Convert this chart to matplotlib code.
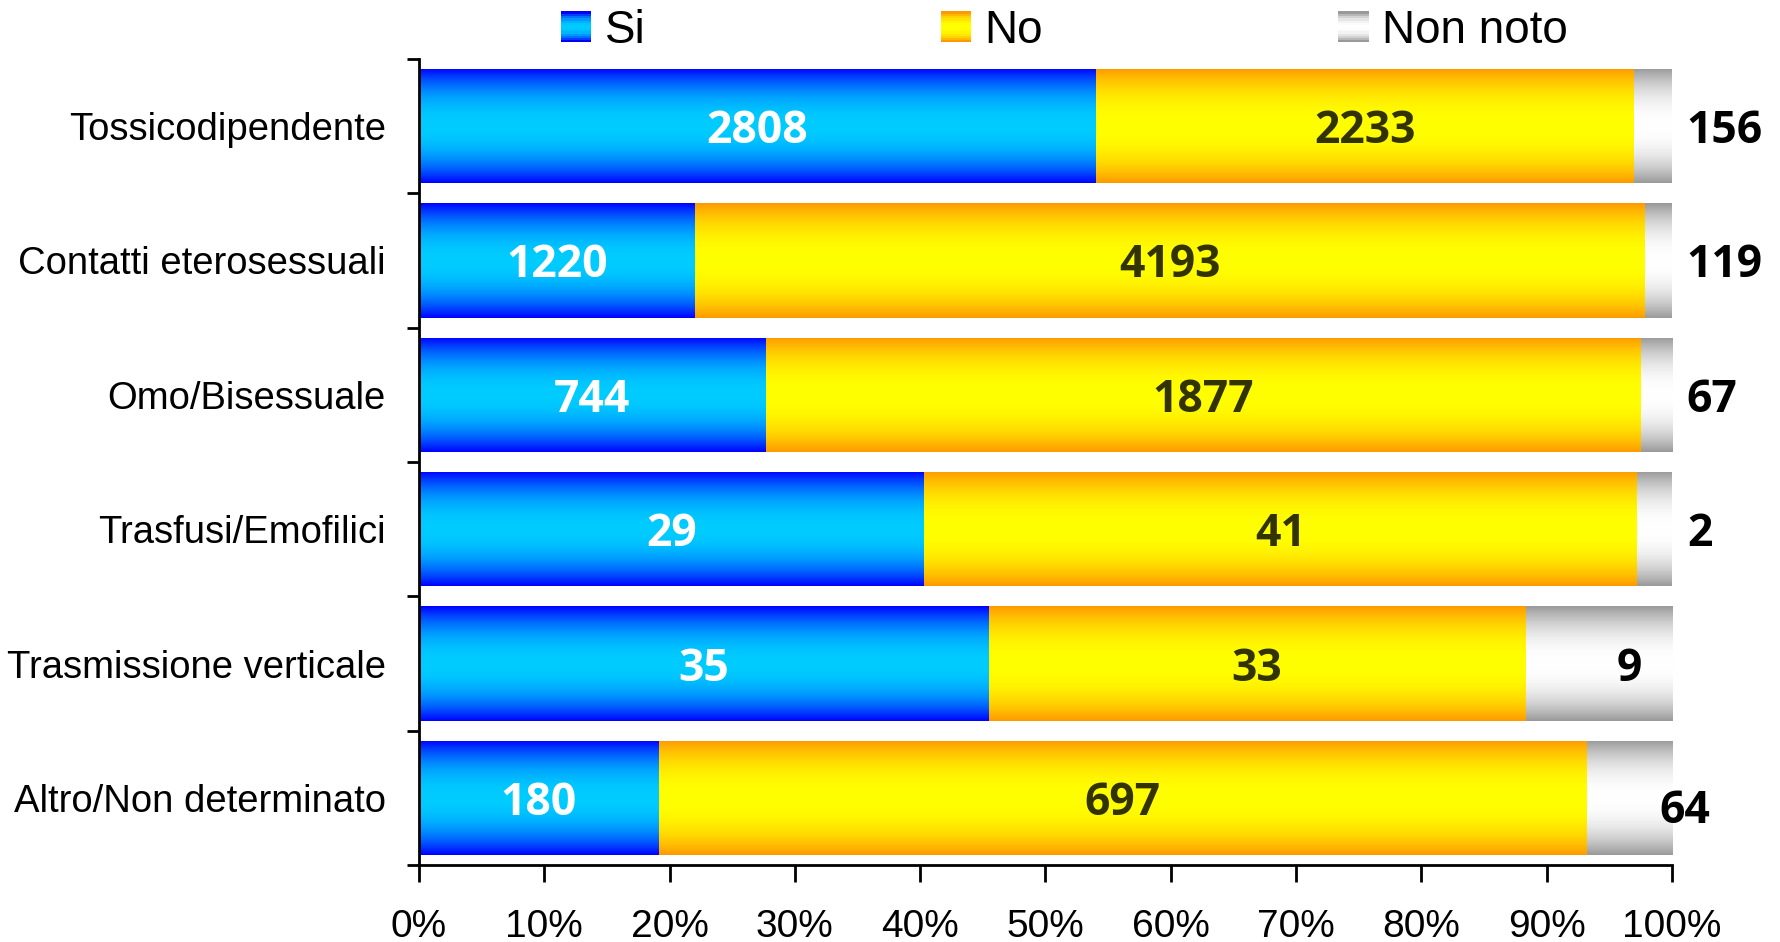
import numpy as np
import matplotlib
matplotlib.use("Agg")
import matplotlib.pyplot as plt
from matplotlib.patches import Rectangle
from matplotlib.legend_handler import HandlerBase
from matplotlib.colors import to_rgb
from matplotlib.ticker import FixedLocator, PercentFormatter
from matplotlib import font_manager

# === DATA ===
categories = ["Tossicodipendente", "Contatti eterosessuali", "Omo/Bisessuale",
              "Trasfusi/Emofilici", "Trasmissione verticale", "Altro/Non determinato"]
series_names = ["Si", "No", "Non noto"]
si = [2808, 1220, 744, 29, 35, 180]
no = [2233, 4193, 1877, 41, 33, 697]
non_noto = [156, 119, 67, 2, 9, 64]

# gradient colours: (edge, middle)
grads = [("#0000FF", "#00CCFF"), ("#FF9900", "#FFFF00"), ("#999999", "#FFFFFF")]
label_colors = ["white", "#333300", "black"]
# x position (axis fraction) of the "Non noto" labels
nn_label_x = [1.042, 1.042, 1.032, 1.022, 0.966, 1.01]
nn_label_dy = [0, 0, 0, 0, 0, 0.06]

plt.rcParams['font.family'] = ['Liberation Sans', 'DejaVu Sans']

# pick an installed bold family for the value labels
names = {f.name for f in font_manager.fontManager.ttflist if f.weight in (700, 'bold')}
bold_family = next((n for n in ['Open Sans', 'Noto Sans', 'Lato', 'Roboto', 'DejaVu Sans']
                    if n in names), 'DejaVu Sans')


def gradient_rgb(edge, mid, n=256):
    t = np.abs(np.linspace(-1, 1, n))
    w = t ** 2.2
    e, m = np.array(to_rgb(edge)), np.array(to_rgb(mid))
    return m[None, :] * (1 - w[:, None]) + e[None, :] * w[:, None]


class GradientHandler(HandlerBase):
    def __init__(self, edge, mid, **kw):
        super().__init__(**kw)
        self.edge, self.mid = edge, mid

    def create_artists(self, legend, orig_handle, xdescent, ydescent,
                       width, height, fontsize, trans):
        n = 14
        cols = gradient_rgb(self.edge, self.mid, n)
        side = height * 1.05
        x0 = -xdescent + (width - side) / 2
        y0 = -ydescent + (height - side) / 2
        arts = []
        for i in range(n):
            r = Rectangle((x0, y0 + side * i / n), side, side / n + 0.3,
                          facecolor=cols[i], edgecolor='none', transform=trans)
            arts.append(r)
        return arts


data = np.array([si, no, non_noto], dtype=float)
totals = data.sum(axis=0)
pct = data / totals * 100

fig = plt.figure(figsize=(17.8, 9.42), dpi=100)
ax = fig.add_axes([0.2354, 0.0817, 0.7039, 0.8557])

y = np.arange(len(categories))
left = np.zeros(len(categories))
for s in range(3):
    bars = ax.barh(y, pct[s], left=left, height=0.85, color='none', edgecolor='none')
    img = gradient_rgb(*grads[s])[:, None, :]
    for b in bars:
        x0, y0 = b.get_x(), b.get_y()
        w, h = b.get_width(), b.get_height()
        im = ax.imshow(img, extent=(x0, x0 + w, y0, y0 + h), aspect='auto',
                       origin='lower', zorder=2, interpolation='bilinear')
        im.set_clip_path(b)
    left += pct[s]

ax.set_xlim(0, 100)
ax.set_ylim(len(categories) - 0.5, -0.5)

# value labels
lab_kw = dict(fontsize=32, fontweight='bold', family=[bold_family, 'DejaVu Sans'],
              zorder=3, va='center_baseline')
for i in range(len(categories)):
    ax.text(pct[0, i] / 2, y[i], f"{si[i]}", ha='center',
            color=label_colors[0], **lab_kw)
    ax.text(pct[0, i] + pct[1, i] / 2, y[i], f"{no[i]}", ha='center',
            color=label_colors[1], **lab_kw)
    ax.text(nn_label_x[i] * 100, y[i] + nn_label_dy[i], f"{non_noto[i]}",
            ha='center', color=label_colors[2], clip_on=False, **lab_kw)

# axes styling
for sp in ['top', 'right']:
    ax.spines[sp].set_visible(False)
for sp in ['left', 'bottom']:
    ax.spines[sp].set_linewidth(2)
    ax.spines[sp].set_color('black')

ax.set_yticks(y)
ax.set_yticklabels(categories, fontsize=27.5)
ax.yaxis.set_minor_locator(FixedLocator(np.arange(-0.5, len(categories), 1.0)))
ax.tick_params(axis='y', which='major', length=0, pad=24)
ax.tick_params(axis='y', which='minor', length=9, width=2, direction='out')

ax.set_xticks(np.arange(0, 101, 10))
ax.xaxis.set_major_formatter(PercentFormatter(decimals=0))
ax.tick_params(axis='x', which='major', length=12, width=2, direction='out', pad=20)
for lab in ax.get_xticklabels():
    lab.set_fontsize(28)

# legend
handles = [Rectangle((0, 0), 1, 1) for _ in series_names]
hmap = {h: GradientHandler(*g) for h, g in zip(handles, grads)}
fig.legend(handles, series_names, handler_map=hmap, loc='upper center',
           bbox_to_anchor=(0.598, 1.034), ncol=3, frameon=False, fontsize=33,
           handlelength=0.65, handleheight=0.6, handletextpad=0.3,
           columnspacing=6.45)

fig.savefig("out.png", dpi=100)
